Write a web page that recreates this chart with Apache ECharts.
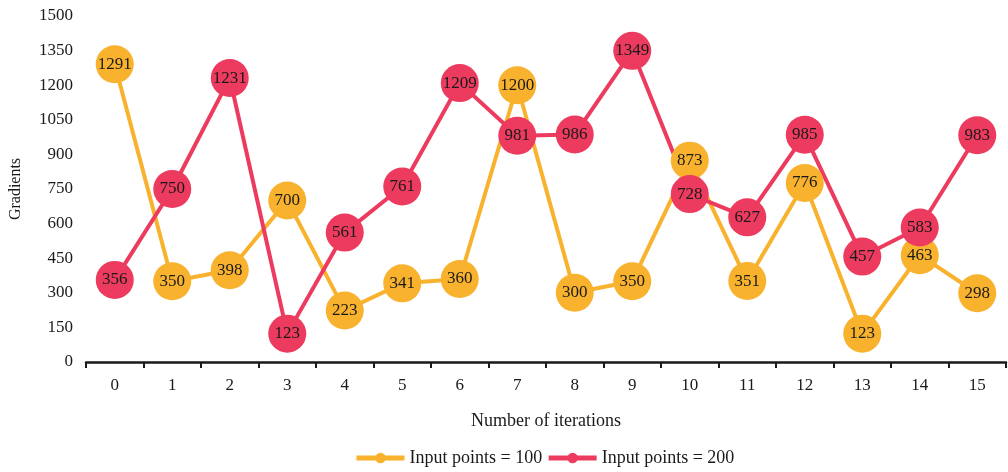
<!DOCTYPE html>
<html>
<head>
<meta charset="utf-8">
<style>
  html, body { margin: 0; padding: 0; background: #fff; }
  #chart { width: 1008px; height: 472px; }
</style>
<script src="https://cdn.jsdelivr.net/npm/echarts@6/dist/echarts.min.js"></script>
</head>
<body>
<div id="chart"></div>
<script>
const iterations = ['0','1','2','3','4','5','6','7','8','9','10','11','12','13','14','15'];
const points100 = [1291, 350, 398, 700, 223, 341, 360, 1200, 300, 350, 873, 351, 776, 123, 463, 298];
const points200 = [356, 750, 1231, 123, 561, 761, 1209, 981, 986, 1349, 728, 627, 985, 457, 583, 983];
const seriesNames = ['Input points = 100', 'Input points = 200'];

const FONT = '"Liberation Serif", "Times New Roman", serif';
const ORANGE = '#F8B22E';
const RED = '#EC3B5E';
const TEXT = '#1a1a1a';

function lineSeries(name, data, color) {
  return {
    name: name,
    type: 'line',
    data: data,
    symbol: 'circle',
    symbolSize: 38,
    lineStyle: { color: color, width: 4 },
    itemStyle: { color: color },
    label: {
      show: true,
      position: 'inside',
      fontFamily: FONT,
      fontSize: 17,
      color: TEXT
    },
    emphasis: { disabled: true }
  };
}

const chart = echarts.init(document.getElementById('chart'));
chart.setOption({
  animation: false,
  backgroundColor: '#fff',
  grid: { left: 86, right: 2, top: 16, bottom: 110 },
  legend: {
    left: 349,
    top: 444,
    itemWidth: 48,
    itemHeight: 13,
    itemGap: 4,
    lineStyle: { width: 5 },
    textStyle: { fontFamily: FONT, fontSize: 18, color: TEXT },
    data: seriesNames
  },
  xAxis: {
    type: 'category',
    data: iterations,
    boundaryGap: true,
    name: 'Number of iterations',
    nameLocation: 'middle',
    nameGap: 50,
    nameTextStyle: { fontFamily: FONT, fontSize: 18, color: TEXT },
    axisLine: { lineStyle: { color: TEXT, width: 2.5 } },
    axisTick: { show: true, length: 6, lineStyle: { color: TEXT, width: 2 } },
    axisLabel: { fontFamily: FONT, fontSize: 17, color: TEXT, margin: 15 }
  },
  yAxis: {
    type: 'value',
    min: 0,
    max: 1500,
    interval: 150,
    name: 'Gradients',
    nameLocation: 'middle',
    nameGap: 62,
    nameTextStyle: { fontFamily: FONT, fontSize: 16, color: TEXT },
    axisLine: { show: false },
    axisTick: { show: false },
    splitLine: { show: false },
    axisLabel: {
      fontFamily: FONT,
      fontSize: 17,
      color: TEXT,
      margin: 13,
      formatter: function (v) { return String(v); }
    }
  },
  series: [
    lineSeries(seriesNames[0], points100, ORANGE),
    lineSeries(seriesNames[1], points200, RED)
  ]
});
</script>
</body>
</html>
